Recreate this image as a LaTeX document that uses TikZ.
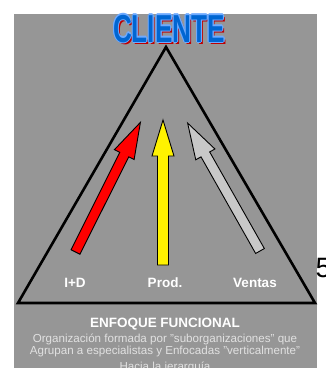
\documentclass[tikz,border=0pt]{standalone}
\usepackage{fontspec}
\setmainfont{Liberation Sans}
\definecolor{bg}{RGB}{150,150,150}
\definecolor{cliblue}{RGB}{0,102,210}
\definecolor{cliedge}{RGB}{110,170,255}
\definecolor{clired}{RGB}{190,0,0}
\definecolor{lighttxt}{RGB}{225,225,225}
\definecolor{arrgray}{RGB}{200,200,200}
\tikzset{
  blockarrow/.style={draw=black, line width=0.9pt, line join=miter},
  lbl/.style={text=white, font=\fontsize{13.5}{14}\selectfont\bfseries, anchor=base, inner sep=0pt},
  desc/.style={text=lighttxt, font=\fontsize{11.6}{12}\selectfont, anchor=base, inner sep=0pt},
  tri/.style={draw=black, line width=2.6pt, line join=miter},
  cli/.style={font=\fontsize{39}{39}\selectfont\bfseries, anchor=base, inner sep=0pt, xscale=0.67}
}
\begin{document}
\begin{tikzpicture}[x=1pt,y=1pt]
\useasboundingbox (0,0) rectangle (326,368);
\fill[white] (0,0) rectangle (326,368);
\fill[bg] (14,0) rectangle (317.5,354);
% triangle
\coordinate (apex) at (166,321);
\coordinate (bl) at (18,65);
\coordinate (br) at (315,65);
\draw[tri] (apex) -- (bl) -- (br) -- cycle;
% title with shadow and edge
\coordinate (ttl) at (169,326);
\node[cli, text=clired] at ([shift={(2,-2.5)}]ttl) {CLIENTE};
\foreach \dx/\dy in {-1/0,1/0,0/1,0/-1,-0.8/0.8,0.8/0.8,-0.8/-0.8,0.8/-0.8}
  \node[cli, text=cliedge] at ([shift={(\dx,\dy)}]ttl) {CLIENTE};
\node[cli, text=cliblue] (cliente) at (ttl) {CLIENTE};
% arrows
\coordinate (redtail) at (75.5,116);
\coordinate (yeltail) at (163,103);
\coordinate (graytail) at (260,117);
\draw[blockarrow, fill=red, shift={(redtail)}, rotate=63.4]
  (0,-5) -- (109,-5) -- (109,-11) -- (145,0) -- (109,11) -- (109,5) -- (0,5) -- cycle;
\draw[blockarrow, fill=yellow, shift={(yeltail)}, rotate=90]
  (0,-5.5) -- (109,-5.5) -- (109,-11) -- (145,0) -- (109,11) -- (109,5.5) -- (0,5.5) -- cycle;
\draw[blockarrow, fill=arrgray, shift={(graytail)}, rotate=119.5]
  (0,-5) -- (111,-5) -- (111,-11) -- (147,0) -- (111,11) -- (111,5) -- (0,5) -- cycle;
% labels
\node[lbl] (id) at (75,81) {I+D};
\node[lbl] (prod) at (165,81) {Prod.};
\node[lbl] (ventas) at (255,81) {Ventas};
\node[anchor=base west, inner sep=0pt, font=\fontsize{28}{28}\selectfont] (five) at (315.5,90) {5};
% caption
\node[lbl] (enf) at (165,41) {ENFOQUE FUNCIONAL};
\node[desc] (d1) at (165,26) {Organización formada por "suborganizaciones" que};
\node[desc] (d2) at (165,13) {Agrupan a especialistas y Enfocadas "verticalmente"};
\node[desc] (d3) at (165,-2) {Hacia la jerarquía};
\end{tikzpicture}
\end{document}
